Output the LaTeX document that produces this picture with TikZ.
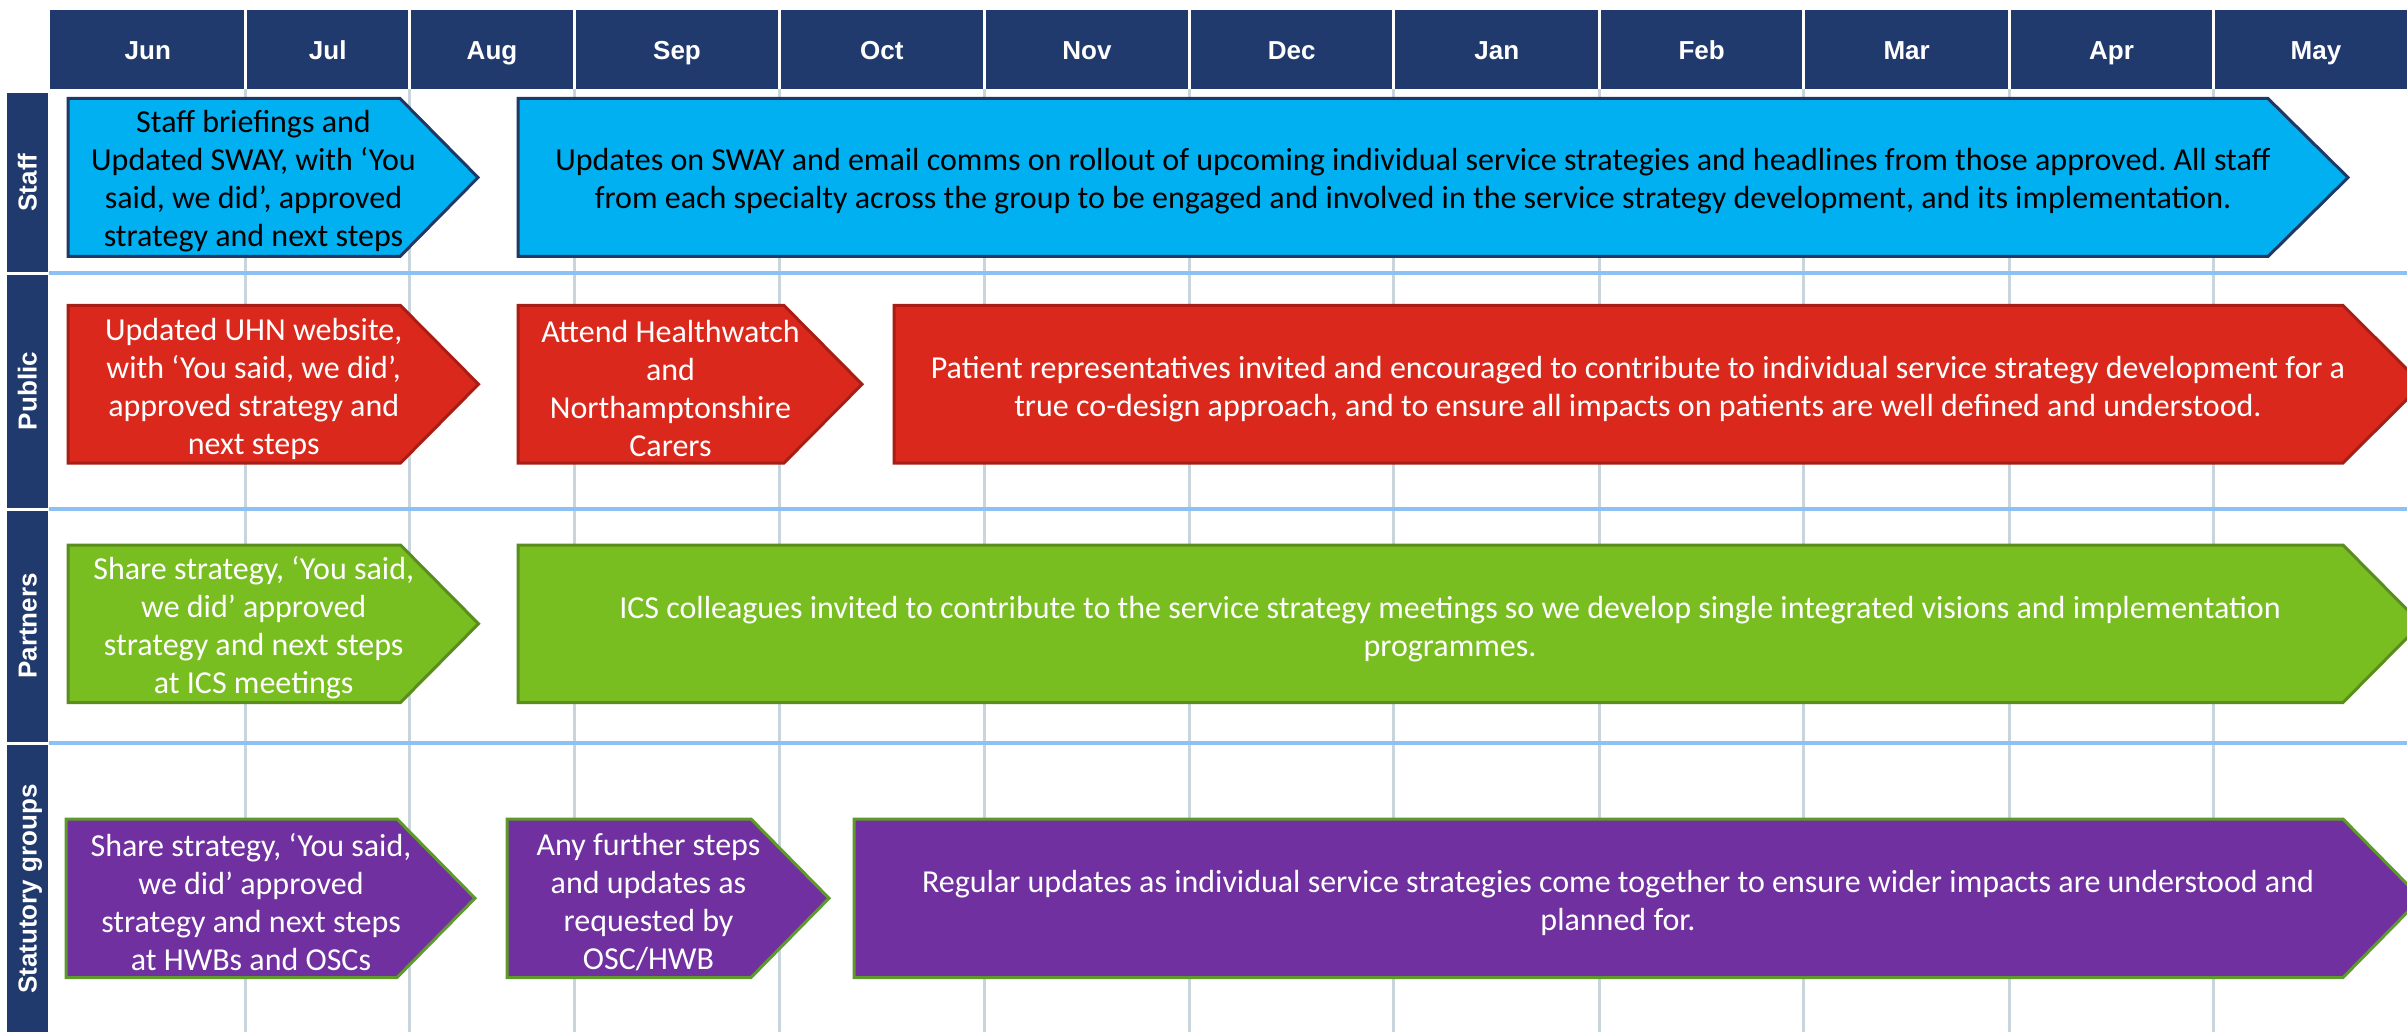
\documentclass[tikz,border=0pt]{standalone}
\usepackage{fontspec}
\setmainfont{Carlito}
\newfontfamily\hfont{Liberation Sans}
\frenchspacing
\definecolor{navy}{HTML}{213A6E}
\definecolor{gridc}{HTML}{C8D5DD}
\definecolor{sepc}{HTML}{8CC1F5}
\definecolor{staffc}{HTML}{00B0F0}
\definecolor{staffb}{HTML}{1F3864}
\definecolor{pubc}{HTML}{DA291C}
\definecolor{pubb}{HTML}{A81E14}
\definecolor{partc}{HTML}{78BE20}
\definecolor{partb}{HTML}{5A8C1E}
\definecolor{statc}{HTML}{7030A0}
\definecolor{statb}{HTML}{5E9A2A}
\newcommand\hplate[6]{\path[#6] (#1,#3) -- (#2,#3) -- ({#2+#5},{(#3+#4)/2}) -- (#2,#4) -- (#1,#4) -- cycle;}
\tikzset{
  gridline/.style={draw=gridc, line width=3pt},
  sepline/.style={draw=sepc, line width=3.5pt},
  hdr/.style={text=white, font=\hfont\bfseries\fontsize{26}{30}\selectfont, inner sep=0pt, anchor=base},
  lbl/.style={text=white, font=\hfont\bfseries\fontsize{26}{30}\selectfont, rotate=90, inner sep=0pt, anchor=base},
  boxtxt/.style={align=center, font=\fontsize{32}{38}\selectfont, inner sep=0pt},
  staffbox/.style={fill=staffc, draw=staffb, line width=3pt},
  pubbox/.style={fill=pubc, draw=pubb, line width=3pt},
  partbox/.style={fill=partc, draw=partb, line width=3pt},
  statbox/.style={fill=statc, draw=statb, line width=3pt},
}
\begin{document}
\begin{tikzpicture}[x=1pt,y=-1pt]
\useasboundingbox (0,0) rectangle (2407,1032);
\clip (0,0) rectangle (2407,1032);
\fill[white] (0,0) rectangle (2407,1032);
% vertical grid lines
\foreach \x in {245.6,409.9,574.1,779.8,984.0,1189.7,1393.9,1599.6,1803.7,2009.4,2213.6}
  \draw[gridline] (\x,89) -- (\x,1032);
% row separators
\foreach \y in {273,509,743}
  \draw[sepline] (49,\y) -- (2407,\y);
% header
\fill[navy] (50,10) rectangle (2420,89);
\foreach \x in {245.6,409.9,574.1,779.8,984.0,1189.7,1393.9,1599.6,1803.7,2009.4,2213.6}
  \draw[white, line width=3pt] (\x,10) -- (\x,89);
\node[hdr] (mJun) at (147.8,59.5) {Jun};
\node[hdr] (mJul) at (327.7,59.5) {Jul};
\node[hdr] (mAug) at (492.0,59.5) {Aug};
\node[hdr] (mSep) at (677.0,59.5) {Sep};
\node[hdr] (mOct) at (881.9,59.5) {Oct};
\node[hdr] (mNov) at (1086.9,59.5) {Nov};
\node[hdr] (mDec) at (1291.8,59.5) {Dec};
\node[hdr] (mJan) at (1496.8,59.5) {Jan};
\node[hdr] (mFeb) at (1701.7,59.5) {Feb};
\node[hdr] (mMar) at (1906.6,59.5) {Mar};
\node[hdr] (mApr) at (2111.5,59.5) {Apr};
\node[hdr] (mMay) at (2316,59.5) {May};
% row labels
\fill[navy] (7,93) rectangle (48,272);
\fill[navy] (7,275) rectangle (48,507.5);
\fill[navy] (7,511) rectangle (48,741.5);
\fill[navy] (7,744.5) rectangle (48,1040);
\node[lbl] (lStaff) at (36.5,182.5) {Staff};
\node[lbl] (lPublic) at (36.5,391) {Public};
\node[lbl] (lPartners) at (36.5,626) {Partners};
\node[lbl] (lStat) at (36.5,889) {Statutory groups};
% Staff row
\hplate{68}{400}{98.5}{256.5}{78}{staffbox}
\hplate{518}{2268}{98.5}{256.5}{80}{staffbox}
\node[boxtxt, text=black] (s1) at (253.5,181.5) {Staff briefings and\\Updated SWAY, with ‘You\\said, we did’, approved\\strategy and next steps};
\node[boxtxt, text=black] (s2) at (1413,181) {Updates on SWAY and email comms on rollout of upcoming individual service strategies and headlines from those approved. All staff\\from each specialty across the group to be engaged and involved in the service strategy development, and its implementation.};
% Public row
\hplate{68}{400.5}{305.5}{463}{78}{pubbox}
\hplate{518}{784}{305.5}{463}{78}{pubbox}
\hplate{894}{2343}{305.5}{463}{79}{pubbox}
\node[boxtxt, text=white] (p1) at (253.7,389) {Updated UHN website,\\with ‘You said, we did’,\\approved strategy and\\next steps};
\node[boxtxt, text=white] (p2) at (670.5,389) {Attend Healthwatch\\and\\Northamptonshire\\Carers};
\node[boxtxt, text=white] (p3) at (1638,389) {Patient representatives invited and encouraged to contribute to individual service strategy development for a\\true co-design approach, and to ensure all impacts on patients are well defined and understood.};
% Partners row
\hplate{68}{400.5}{545}{702.5}{78}{partbox}
\hplate{518}{2343}{545}{702.5}{78}{partbox}
\node[boxtxt, text=white] (q1) at (253.7,628) {Share strategy, ‘You said,\\we did’ approved\\strategy and next steps\\at ICS meetings};
\node[boxtxt, text=white] (q2) at (1450,629) {ICS colleagues invited to contribute to the service strategy meetings so we develop single integrated visions and implementation\\programmes.};
% Statutory row
\hplate{66}{397}{819}{977.5}{78}{statbox}
\hplate{507}{751}{819}{977.5}{78}{statbox}
\hplate{854}{2343}{819}{977.5}{78}{statbox}
\node[boxtxt, text=white] (t1) at (251,902) {Share strategy, ‘You said,\\we did’ approved\\strategy and next steps\\at HWBs and OSCs};
\node[boxtxt, text=white] (t2) at (648.5,902) {Any further steps\\and updates as\\requested by\\OSC/HWB};
\node[boxtxt, text=white] (t3) at (1618,903) {Regular updates as individual service strategies come together to ensure wider impacts are understood and\\planned for.};
\end{tikzpicture}
\end{document}
